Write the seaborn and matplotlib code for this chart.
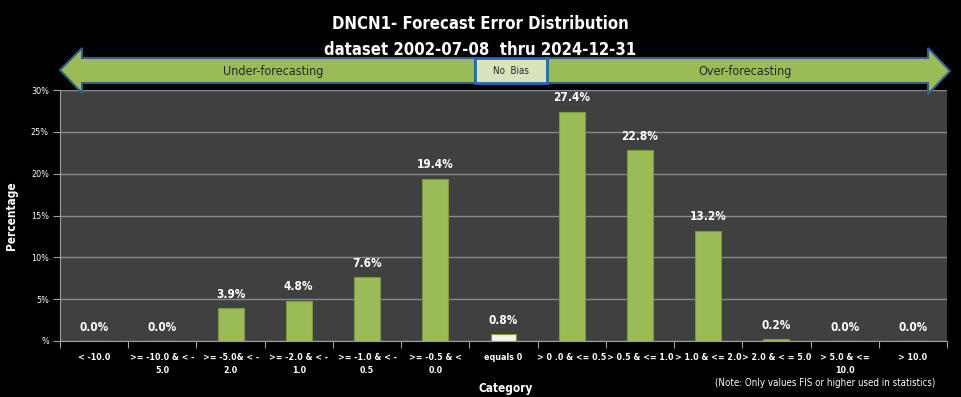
import matplotlib
matplotlib.use("Agg")
import matplotlib.pyplot as plt
from matplotlib.patches import Polygon, Rectangle
import pandas as pd
import seaborn as sns

# categories + percentages
categories = ["< -10.0", ">= -10.0 & < -\n5.0", ">= -5.0& < -\n2.0", ">= -2.0 & < -\n1.0",
              ">= -1.0 & < -\n0.5", ">= -0.5 & <\n0.0", "equals 0", "> 0 .0 & <= 0.5",
              "> 0.5 & <= 1.0", "> 1.0 & <= 2.0", "> 2.0 & < = 5.0", "> 5.0 & <=\n10.0", "> 10.0"]
values = [0.0, 0.0, 3.9, 4.8, 7.6, 19.4, 0.8, 27.4, 22.8, 13.2, 0.2, 0.0, 0.0]
yticks = [0, 5, 10, 15, 20, 25, 30]
ytick_labels = ["%", "5%", "10%", "15%", "20%", "25%", "30%"]

title = "DNCN1- Forecast Error Distribution\ndataset 2002-07-08  thru 2024-12-31"
note = "(Note: Only values FIS or higher used in statistics)"

W, H = 961, 397
GREEN = "#9bbb59"

sns.set_style("dark")
plt.rcParams["font.family"] = ["DejaVu Sans"]
plt.rcParams["font.stretch"] = "condensed"

df = pd.DataFrame({"Category": categories, "Percentage": values})
pal = {c: GREEN for c in categories}
pal["equals 0"] = "#f2f6e6"

fig = plt.figure(figsize=(W / 100, H / 100), dpi=100, facecolor="black")
ax = fig.add_axes([60 / W, 1 - 341 / H, (947 - 60) / W, (341 - 90) / H])
ax.set_facecolor("#404040")

sns.barplot(data=df, x="Category", y="Percentage", hue="Category", palette=pal,
            legend=False, width=0.38, saturation=1, edgecolor="#7a9a3e", linewidth=0.8, ax=ax)

ax.set_ylim(0, 30)
ax.set_xlim(-0.5, len(categories) - 0.5)
ax.set_yticks(yticks)
ax.set_yticklabels(ytick_labels, color="white", fontsize=6.5)
ax.yaxis.grid(True, color="#8a8a8a", linewidth=1)
ax.xaxis.grid(False)
ax.set_axisbelow(True)

# x tick marks sit between categories, labels at centres
ax.set_xticks([i - 0.5 for i in range(len(categories) + 1)])
ax.set_xticklabels([])
ax.set_xticks(range(len(categories)), minor=True)
ax.set_xticklabels(categories, minor=True, color="white", fontsize=6.4, fontweight="bold",
                   linespacing=1.5)
ax.tick_params(axis="x", which="major", length=5, color="#a0a0a0", direction="out")
ax.tick_params(axis="x", which="minor", length=0, pad=9)
ax.tick_params(axis="y", length=5, color="#a0a0a0", direction="out", pad=3)
ax.tick_params(bottom=True, left=True)

for s in ["top", "right"]:
    ax.spines[s].set_visible(False)
for s in ["left", "bottom"]:
    ax.spines[s].set_color("#a0a0a0")

for i, v in enumerate(values):
    ax.annotate(f"{v:.1f}%", (i, v), xytext=(0, 10), textcoords="offset points",
                ha="center", va="center", color="white", fontsize=8.5, fontweight="bold")

ax.set_xlabel("Category", color="white", fontsize=8.5, fontweight="bold")
ax.xaxis.set_label_coords((506 - 60) / (947 - 60), -0.165)
ax.set_ylabel("Percentage", color="white", fontsize=8.5, fontweight="bold")
ax.yaxis.set_label_coords(-(60 - 18) / (947 - 60), 0.5)

fig.text(480 / W, 1 - 37 / H, title, ha="center", va="center", color="white",
         fontsize=12, fontweight="bold", linespacing=1.55)
fig.text(825 / W, 1 - 383 / H, note, ha="center", va="center", color="white", fontsize=7)


def px(pts):
    return [(x / W, 1 - y / H) for x, y in pts]


# the two big arrows and the "No Bias" box
left_arrow = px([(60, 70), (82, 48), (82, 58), (475, 58), (475, 83), (82, 83), (82, 93)])
right_arrow = px([(950, 71), (928, 48), (928, 58), (547, 58), (547, 83), (928, 83), (928, 94)])
for pts in (left_arrow, right_arrow):
    fig.add_artist(Polygon(pts, closed=True, facecolor=GREEN, edgecolor="#385d8a",
                           linewidth=1.5, transform=fig.transFigure))
fig.add_artist(Rectangle((475 / W, 1 - 83 / H), 72 / W, 25 / H, facecolor="#d7e4bd",
                         edgecolor="#1f6bb0", linewidth=2, transform=fig.transFigure))
fig.text(273 / W, 1 - 71 / H, "Under-forecasting", ha="center", va="center", fontsize=9)
fig.text(745 / W, 1 - 71 / H, "Over-forecasting", ha="center", va="center", fontsize=9)
fig.text(511 / W, 1 - 71 / H, "No  Bias", ha="center", va="center", fontsize=7)

fig.savefig("out.png", dpi=100, facecolor="black")
